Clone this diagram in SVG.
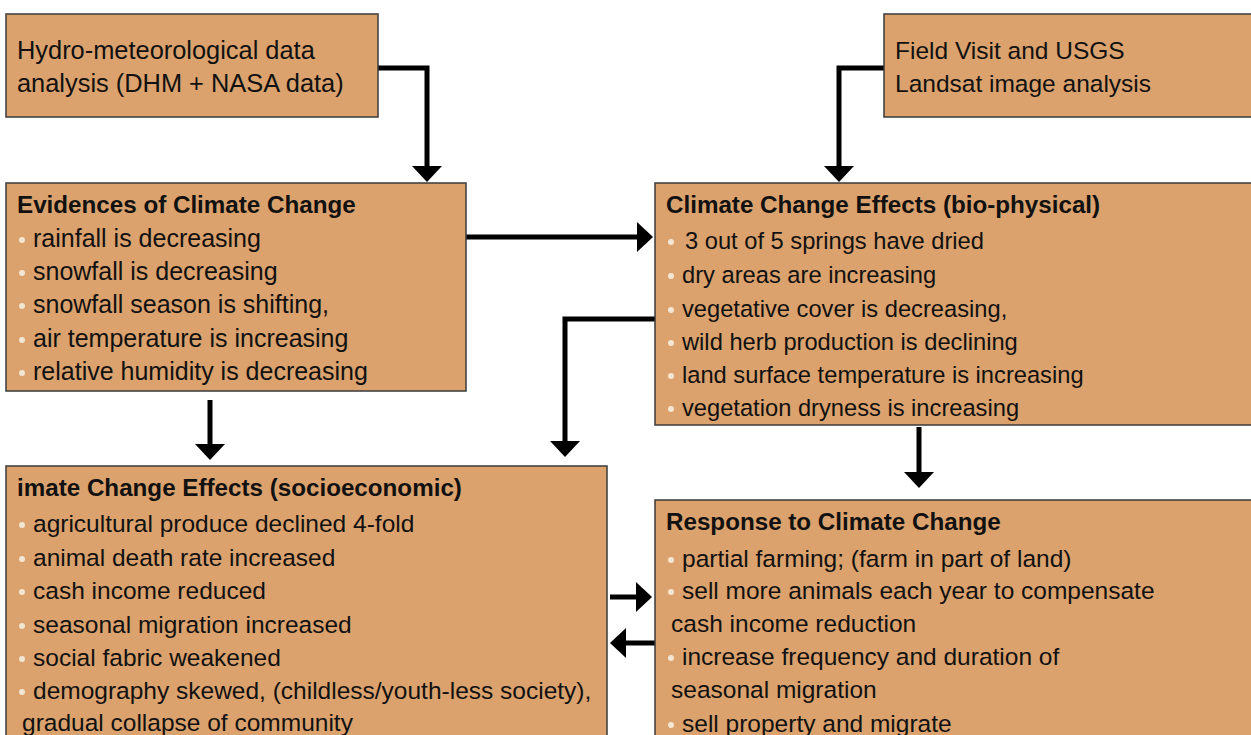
<svg xmlns="http://www.w3.org/2000/svg" width="1251" height="735" viewBox="0 0 1251 735">
<style>
.box{fill:#dba26d;stroke:#3a3a3a;stroke-width:1.5}
.t{font-family:"Liberation Sans",Arial,sans-serif;font-size:24.5px;fill:#111}
.h{font-family:"Liberation Sans",Arial,sans-serif;font-size:24.2px;font-weight:bold;fill:#111}
.b{fill:#f3e6d3}
.c{fill:none;stroke:#000;stroke-width:5;stroke-linejoin:miter}
</style>
<defs>
<marker id="ah" markerUnits="userSpaceOnUse" markerWidth="16" markerHeight="30" viewBox="0 0 16 30" refX="2" refY="15" orient="auto">
<path d="M0,0 L16,15 L0,30 Z" fill="#000"/>
</marker>
</defs>
<g id="connectors">
<path class="c" d="M378,68 H427 V168" marker-end="url(#ah)"/>
<path class="c" d="M884,68 H839 V168" marker-end="url(#ah)"/>
<path class="c" d="M466,237 H639" marker-end="url(#ah)"/>
<path class="c" d="M655,319 H565 V443" marker-end="url(#ah)"/>
<path class="c" d="M210,400 V446" marker-end="url(#ah)"/>
<path class="c" d="M919,427 V474" marker-end="url(#ah)"/>
<path class="c" d="M610,597 H638" marker-end="url(#ah)"/>
<path class="c" d="M655,643 H624" marker-end="url(#ah)"/>
</g>
<g id="hydro">
<rect class="box" x="6" y="14" width="372" height="103"/>
<text class="t" x="17" y="59" style="font-size:25.4px">Hydro-meteorological data</text>
<text class="t" x="17" y="92" style="font-size:25.4px">analysis (DHM + NASA data)</text>
</g>
<g id="field">
<rect class="box" x="884" y="14" width="380" height="103"/>
<text class="t" x="895" y="59">Field Visit and USGS</text>
<text class="t" x="895" y="92">Landsat image analysis</text>
</g>
<g id="evidences" style="font-size:25px">
<rect class="box" x="6" y="183" width="460" height="208"/>
<text class="h" x="17" y="213">Evidences of Climate Change</text>
<circle class="b" cx="22" cy="240" r="3"/><text class="t" x="33" y="247" style="font-size:25px">rainfall is decreasing</text>
<circle class="b" cx="22" cy="273" r="3"/><text class="t" x="33" y="280" style="font-size:25px">snowfall is decreasing</text>
<circle class="b" cx="22" cy="306" r="3"/><text class="t" x="33" y="313" style="font-size:25px">snowfall season is shifting,</text>
<circle class="b" cx="22" cy="340" r="3"/><text class="t" x="33" y="347" style="font-size:25px">air temperature is increasing</text>
<circle class="b" cx="22" cy="373" r="3"/><text class="t" x="33" y="380" style="font-size:25px">relative humidity is decreasing</text>
</g>
<g id="biophysical">
<rect class="box" x="655" y="183" width="610" height="242"/>
<text class="h" x="666" y="213">Climate Change Effects (bio-physical)</text>
<circle class="b" cx="671" cy="242" r="3"/><text class="t" x="685" y="249" style="font-size:23.7px">3 out of 5 springs have dried</text>
<circle class="b" cx="671" cy="276" r="3"/><text class="t" x="682" y="283" style="font-size:23.7px">dry areas are increasing</text>
<circle class="b" cx="671" cy="310" r="3"/><text class="t" x="682" y="317" style="font-size:23.7px">vegetative cover is decreasing,</text>
<circle class="b" cx="671" cy="343" r="3"/><text class="t" x="682" y="350" style="font-size:23.7px">wild herb production is declining</text>
<circle class="b" cx="671" cy="376" r="3"/><text class="t" x="682" y="383" style="font-size:23.7px">land surface temperature is increasing</text>
<circle class="b" cx="671" cy="409" r="3"/><text class="t" x="682" y="416" style="font-size:23.7px">vegetation dryness is increasing</text>
</g>
<g id="socioeconomic">
<rect class="box" x="6" y="466" width="601" height="290"/>
<text class="h" x="17" y="496">imate Change Effects (socioeconomic)</text>
<circle class="b" cx="22" cy="525" r="3"/><text class="t" x="33" y="532">agricultural produce declined 4-fold</text>
<circle class="b" cx="22" cy="559" r="3"/><text class="t" x="33" y="566">animal death rate increased</text>
<circle class="b" cx="22" cy="592" r="3"/><text class="t" x="33" y="599">cash income reduced</text>
<circle class="b" cx="22" cy="626" r="3"/><text class="t" x="33" y="633">seasonal migration increased</text>
<circle class="b" cx="22" cy="659" r="3"/><text class="t" x="33" y="666">social fabric weakened</text>
<circle class="b" cx="22" cy="692" r="3"/><text class="t" x="33" y="699">demography skewed, (childless/youth-less society),</text>
<text class="t" x="22" y="731">gradual collapse of community</text>
</g>
<g id="response">
<rect class="box" x="655" y="500" width="610" height="260"/>
<text class="h" x="666" y="530">Response to Climate Change</text>
<circle class="b" cx="671" cy="560" r="3"/><text class="t" x="682" y="567">partial farming; (farm in part of land)</text>
<circle class="b" cx="671" cy="592" r="3"/><text class="t" x="682" y="599">sell more animals each year to compensate</text>
<text class="t" x="671" y="632">cash income reduction</text>
<circle class="b" cx="671" cy="658" r="3"/><text class="t" x="682" y="665">increase frequency and duration of</text>
<text class="t" x="671" y="698">seasonal migration</text>
<circle class="b" cx="671" cy="725" r="3"/><text class="t" x="682" y="732">sell property and migrate</text>
</g>
</svg>
